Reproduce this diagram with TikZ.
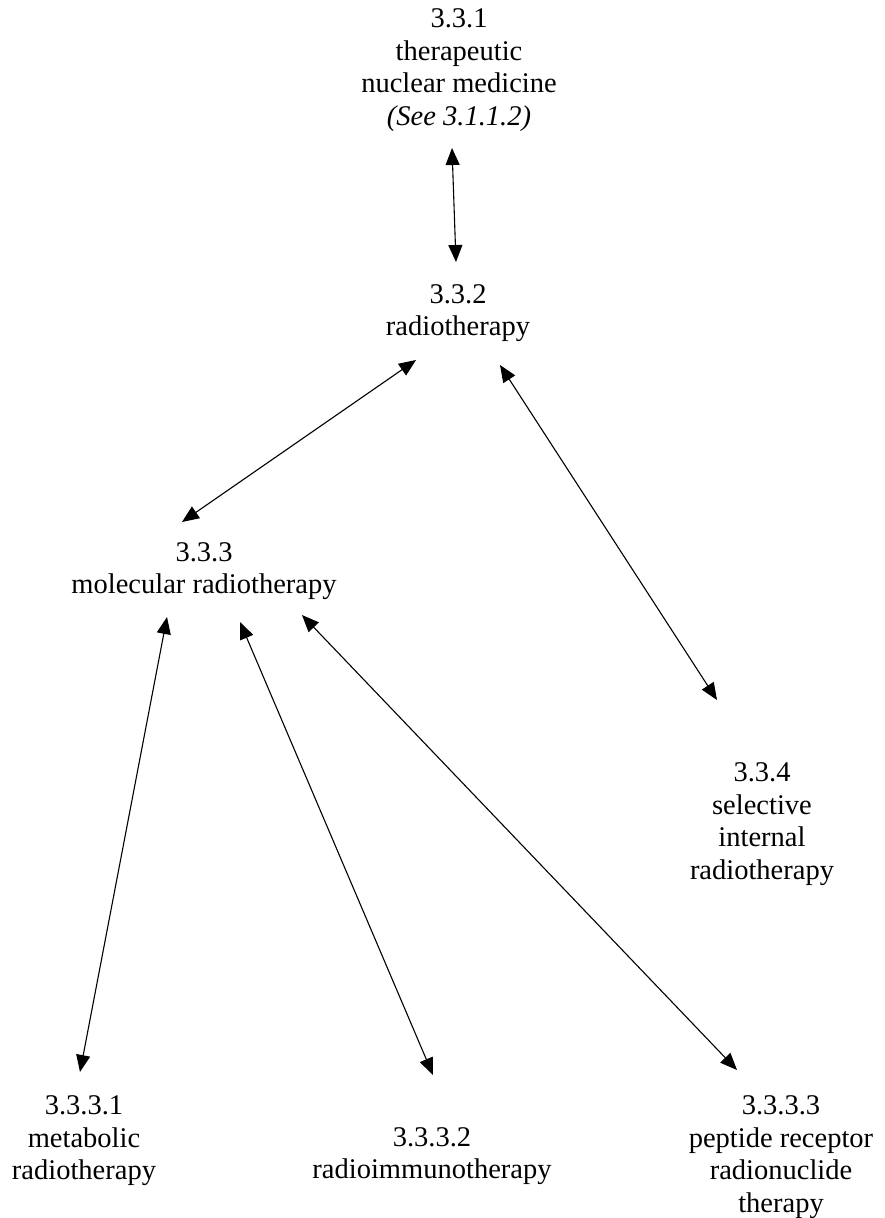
\documentclass[tikz,border=0pt]{standalone}
\usepackage{fontspec}
\setmainfont{Liberation Serif}
\usetikzlibrary{arrows.meta,calc}

\begin{document}
\begin{tikzpicture}[x=1pt,y=-1pt,
    lbl/.style={align=center,font=\fontsize{28.5}{32.5}\selectfont,inner sep=0pt},
    arr/.style={{Triangle[length=17pt,width=14pt]}-{Triangle[length=17pt,width=14pt]},line width=1.1pt}]
      \useasboundingbox (0,0) rectangle (884,1218);
      \node[lbl] (n331) at (459,70) {3.3.1\\therapeutic\\nuclear medicine\\\textit{(See 3.1.1.2)}};
      \node[lbl] (n332) at (458,313) {3.3.2\\radiotherapy};
      \node[lbl] (n333) at (204,571) {3.3.3\\molecular radiotherapy};
      \node[lbl] (n334) at (762,824) {3.3.4\\selective\\internal\\radiotherapy};
      \node[lbl] (n3331) at (84,1141) {3.3.3.1\\metabolic\\radiotherapy};
      \node[lbl] (n3332) at (432,1156) {3.3.3.2\\radioimmunotherapy};
      \node[lbl] (n3333) at (781,1157) {3.3.3.3\\peptide receptor\\radionuclide\\therapy};
      \draw[arr] ($(n331)+(-7,78)$) -- ($(n332)+(-2,-51)$);
      \draw[arr] ($(n332)+(-42,47)$) -- ($(n333)+(-22,-49)$);
      \draw[arr] ($(n332)+(42,52)$) -- ($(n334)+(-45,-124)$);
      \draw[arr] ($(n333)+(-37,46)$) -- ($(n3331)+(-4,-69)$);
      \draw[arr] ($(n333)+(36,51)$) -- ($(n3332)+(1,-81)$);
      \draw[arr] ($(n333)+(98,44)$) -- ($(n3333)+(-44,-87)$);
    \end{tikzpicture}
\end{document}
